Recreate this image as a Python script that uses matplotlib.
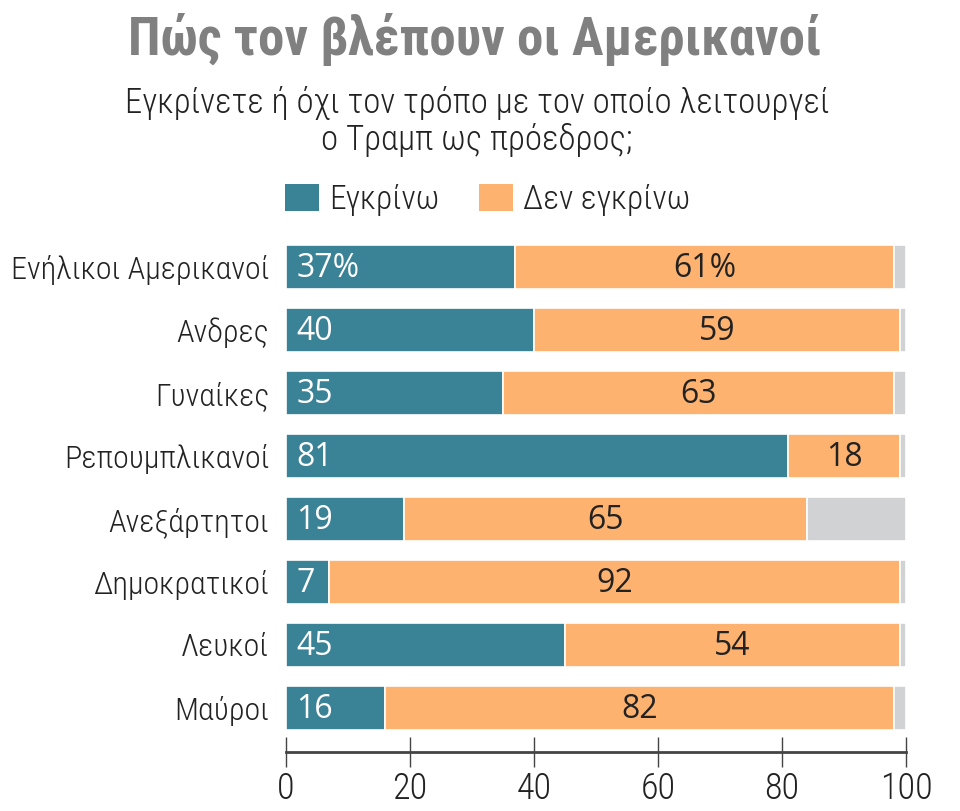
import numpy as np
import matplotlib
matplotlib.use("Agg")
import matplotlib.pyplot as plt
from matplotlib.patches import Patch

plt.rcParams['font.family'] = ['Roboto Condensed', 'DejaVu Sans']
plt.rcParams['font.weight'] = 300

groups = ['Ενήλικοι Αμερικανοί', 'Ανδρες', 'Γυναίκες', 'Ρεπουμπλικανοί',
          'Ανεξάρτητοι', 'Δημοκρατικοί', 'Λευκοί', 'Μαύροι']
approve = [37, 40, 35, 81, 19, 7, 45, 16]
disapprove = [61, 59, 63, 18, 65, 92, 54, 82]
other = [100 - a - d for a, d in zip(approve, disapprove)]
xticks = [0, 20, 40, 60, 80, 100]

teal = '#3A8296'
orange = '#FDB270'
grey = '#D1D2D4'
ink = '#222222'
num_font = ['Open Sans', 'DejaVu Sans']

fig = plt.figure(figsize=(9.6, 8.11), dpi=100)
ax = fig.add_axes([286 / 960, 59 / 811, 620 / 960, 516.5 / 811])

y = np.arange(len(groups))
h = 0.71
ax.barh(y, approve, height=h, color=teal, edgecolor='white', linewidth=1.2)
ax.barh(y, disapprove, left=approve, height=h, color=orange, edgecolor='white', linewidth=1.2)
left2 = [a + d for a, d in zip(approve, disapprove)]
ax.barh(y, other, left=left2, height=h, color=grey, edgecolor='white', linewidth=1.2)

# ετικέτες τιμών
for i in range(len(groups)):
    suffix = '%' if i == 0 else ''
    ax.text(1.7, y[i] + 0.03, f'{approve[i]}{suffix}', color='white', fontsize=23,
            family=num_font, weight='normal', va='center', ha='left')
    ax.text(approve[i] + disapprove[i] / 2, y[i] + 0.03, f'{disapprove[i]}{suffix}',
            color=ink, fontsize=23, family=num_font, weight='normal',
            va='center', ha='center')

ax.set_xlim(0, 100)
ax.set_ylim(7.7, -0.5)
ax.set_yticks(y)
ax.set_yticklabels(groups, fontsize=23, color=ink)
ax.tick_params(axis='y', length=0, pad=12)
ax.set_xticks(xticks)
ax.set_xticklabels([str(t) for t in xticks], fontsize=26, color=ink)
ax.tick_params(axis='x', direction='inout', length=22, width=1, color='#444444', pad=3)
for s in ['top', 'right', 'left']:
    ax.spines[s].set_visible(False)
ax.spines['bottom'].set_linewidth(2)
ax.spines['bottom'].set_color('#444444')

fig.text(0.495, 1 - 39 / 811, 'Πώς τον βλέπουν οι Αμερικανοί', fontsize=38,
         fontweight='bold', color='#808080', ha='center', va='center')
fig.text(0.497, 1 - 103 / 811, 'Εγκρίνετε ή όχι τον τρόπο με τον οποίο λειτουργεί',
         fontsize=25, color=ink, ha='center', va='center')
fig.text(0.497, 1 - 140 / 811, 'ο Τραμπ ως πρόεδρος;',
         fontsize=25, color=ink, ha='center', va='center')

handles = [Patch(facecolor=teal, label='Εγκρίνω'), Patch(facecolor=orange, label='Δεν εγκρίνω')]
fig.legend(handles=handles, loc='center left', bbox_to_anchor=(285 / 960, 1 - 200 / 811),
           ncol=2, frameon=False, fontsize=24, handlelength=1.02, handleheight=0.87,
           handletextpad=0.3, columnspacing=1.2, borderpad=0, borderaxespad=0,
           labelcolor=ink)

fig.savefig('out.png', dpi=100)
